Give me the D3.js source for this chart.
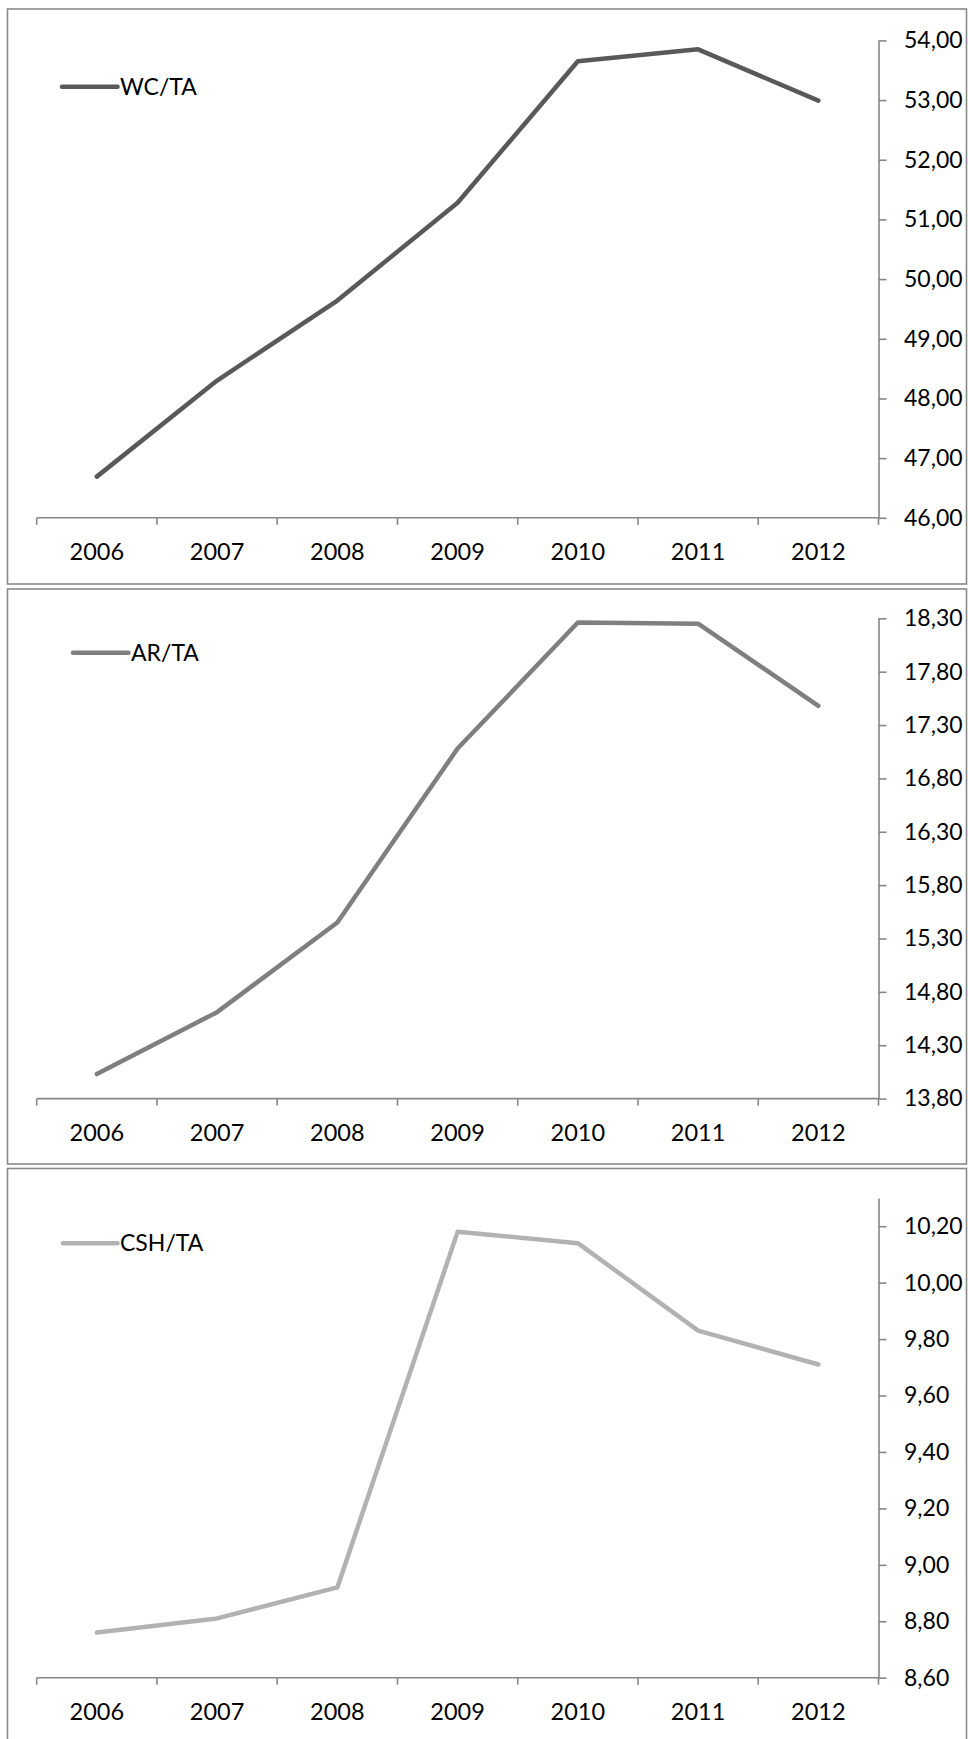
<!DOCTYPE html>
<html>
<head>
<meta charset="utf-8">
<script src="https://cdn.jsdelivr.net/npm/d3@7"></script>
<style>
  html, body { margin: 0; padding: 0; background: #fff; }
  svg { display: block; }
  text { font-family: Lato, "Open Sans", sans-serif; }
</style>
</head>
<body>
<svg id="chart" width="968" height="1739"></svg>
<script>
const years = ["2006", "2007", "2008", "2009", "2010", "2011", "2012"];

const wcTA  = [46.69, 48.30, 49.64, 51.28, 53.65, 53.85, 52.99];
const arTA  = [14.03, 14.61, 15.45, 17.08, 18.26, 18.25, 17.48];
const cshTA = [8.76, 8.81, 8.92, 10.18, 10.14, 9.83, 9.71];

const wcTicks  = [46, 47, 48, 49, 50, 51, 52, 53, 54];
const arTicks  = [13.8, 14.3, 14.8, 15.3, 15.8, 16.3, 16.8, 17.3, 17.8, 18.3];
const cshTicks = [8.6, 8.8, 9.0, 9.2, 9.4, 9.6, 9.8, 10.0, 10.2];

const seriesNames = ["WC/TA", "AR/TA", "CSH/TA"];

const panels = [
  { name: seriesNames[0], values: wcTA,  ticks: wcTicks,  domain: [46, 54],    color: "#595959",
    box: [7.5, 9, 966.5, 584], yRange: [517.8, 40.4], legend: [62, 117.5, 86.7] },
  { name: seriesNames[1], values: arTA,  ticks: arTicks,  domain: [13.8, 18.3], color: "#7f7f7f",
    box: [7.5, 589, 966.5, 1164], yRange: [1098.6, 618.3], legend: [73, 128.5, 652.7] },
  { name: seriesNames[2], values: cshTA, ticks: cshTicks, domain: [8.6, 10.3],  color: "#b2b2b2",
    box: [7.5, 1168.5, 966.5, 1750], yRange: [1677.7, 1198], legend: [63, 117.5, 1243.3] }
];

const svg = d3.select("#chart");
const fmt = v => d3.format(".2f")(v).replace(".", ",");
const x = d3.scaleBand().domain(years).range([36.7, 878.5]).padding(0);
const axisColor = "#878787";

panels.forEach(p => {
  const g = svg.append("g");
  // panel frame
  g.append("rect")
    .attr("x", p.box[0]).attr("y", p.box[1])
    .attr("width", p.box[2] - p.box[0]).attr("height", p.box[3] - p.box[1])
    .attr("fill", "#fff").attr("stroke", "#8a8a8a").attr("stroke-width", 1.6);

  const y = d3.scaleLinear().domain(p.domain).range(p.yRange);
  const y0 = p.yRange[0];

  // x axis: labels
  const xAxis = g.append("g").attr("transform", `translate(0,${y0})`)
    .call(d3.axisBottom(x).tickSize(0).tickPadding(26));
  xAxis.select(".domain").remove();
  xAxis.selectAll("text").attr("font-size", 23.5).attr("fill", "#000").attr("font-family", "Lato");

  // x axis line + boundary ticks
  g.append("line").attr("x1", x.range()[0]).attr("x2", x.range()[1])
    .attr("y1", y0).attr("y2", y0).attr("stroke", axisColor).attr("stroke-width", 1.6);
  const bounds = years.map(d => x(d)).concat([x(years[years.length - 1]) + x.bandwidth()]);
  g.selectAll("line.xt").data(bounds).enter().append("line").attr("class", "xt")
    .attr("x1", d => d).attr("x2", d => d).attr("y1", y0).attr("y2", y0 + 7)
    .attr("stroke", axisColor).attr("stroke-width", 1.6);

  // y axis on right
  const yAxis = g.append("g").attr("transform", `translate(${x.range()[1]},0)`)
    .call(d3.axisRight(y).tickValues(p.ticks).tickFormat(fmt).tickSize(8).tickSizeOuter(0).tickPadding(17.5));
  yAxis.select(".domain").attr("stroke", axisColor).attr("stroke-width", 1.6);
  yAxis.selectAll(".tick line").attr("stroke", axisColor).attr("stroke-width", 1.6);
  yAxis.selectAll("text").attr("font-size", 23).attr("fill", "#000").attr("font-family", "Lato");

  // series line
  const line = d3.line().x((d, i) => x(years[i]) + x.bandwidth() / 2).y(d => y(d));
  g.append("path").datum(p.values).attr("d", line)
    .attr("fill", "none").attr("stroke", p.color).attr("stroke-width", 4.5)
    .attr("stroke-linejoin", "round").attr("stroke-linecap", "round");

  // legend
  g.append("line").attr("x1", p.legend[0]).attr("x2", p.legend[1])
    .attr("y1", p.legend[2]).attr("y2", p.legend[2])
    .attr("stroke", p.color).attr("stroke-width", 4.5).attr("stroke-linecap", "round");
  g.append("text").attr("x", p.legend[1] + 2.5).attr("y", p.legend[2])
    .attr("dy", "0.35em").attr("font-size", 23).attr("fill", "#000").text(p.name);
});
</script>
</body>
</html>
